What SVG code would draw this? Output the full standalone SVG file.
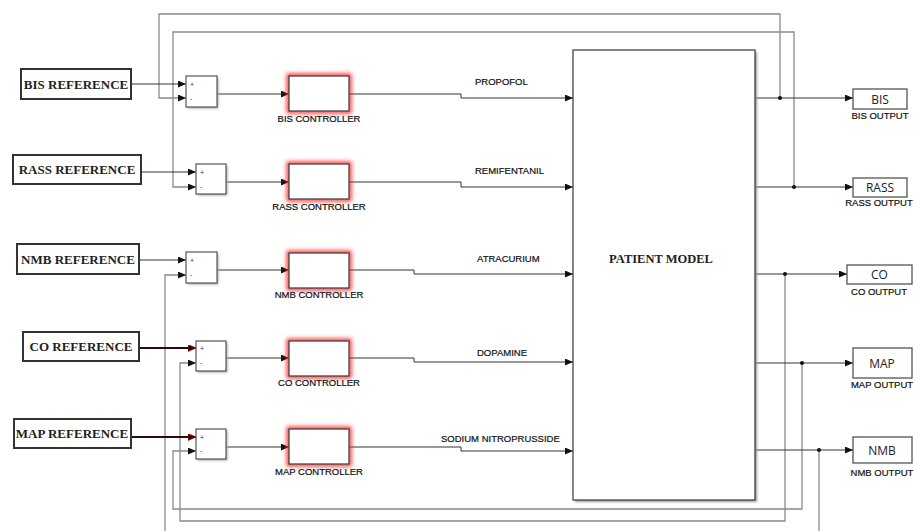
<svg xmlns="http://www.w3.org/2000/svg" width="915" height="531" viewBox="0 0 915 531">
<style>
.ref{fill:#fff;stroke:#333;stroke-width:2}
.reft{font-family:"Liberation Serif",serif;font-weight:bold;font-size:13px;fill:#222;text-anchor:middle}
.sum{fill:#fff;stroke:#555;stroke-width:1.2}
.shadow{fill:#aaa;filter:url(#blur1)}
.sgn{font-family:"Liberation Sans",sans-serif;font-size:7px;fill:#333}
.ctrl{fill:#fff;stroke:#444;stroke-width:1.3}
.glow{fill:none;stroke:#f22;stroke-width:5;filter:url(#blur2);opacity:0.9}
.lbl{font-family:"Liberation Sans",sans-serif;font-size:9.5px;fill:#111;stroke:#111;stroke-width:0.2;text-anchor:middle}
.drug{font-family:"Liberation Sans",sans-serif;font-size:9.5px;fill:#111;stroke:#111;stroke-width:0.2}
.out{fill:#fff;stroke:#555;stroke-width:1.3}
.outt{font-family:"Open Sans",sans-serif;font-size:12px;fill:#222;text-anchor:middle}
.sig{fill:none;stroke:#333;stroke-width:1}
.fb{fill:none;stroke:#8a8a8a;stroke-width:1.3}
.thick{fill:none;stroke:#2a0c0c;stroke-width:2}
.dot{fill:#111}
</style>
<defs>
<filter id="blur1" x="-20%" y="-20%" width="140%" height="140%"><feGaussianBlur stdDeviation="0.8"/></filter>
<filter id="blur2" x="-30%" y="-40%" width="160%" height="180%"><feGaussianBlur stdDeviation="2"/></filter>
<marker id="arr" markerUnits="userSpaceOnUse" markerWidth="9" markerHeight="8" refX="8" refY="3.5" orient="auto"><path d="M0,0 L8,3.5 L0,7 z" fill="#111"/></marker>
<marker id="arrR" markerUnits="userSpaceOnUse" markerWidth="10" markerHeight="9" refX="8" refY="3.5" orient="auto"><path d="M0,0 L8,3.5 L0,7 z" fill="#111" stroke="#c00" stroke-width="0.8"/></marker>
</defs>

<g id="connectors">
<polyline class="fb" points="780,98 780,14 159,14 159,98 186,98" marker-end="url(#arr)"/>
<polyline class="fb" points="794,187 794,32 173,32 173,187 196,187" marker-end="url(#arr)"/>
<polyline class="fb" points="819,450 819,531"/>
<polyline class="fb" points="165,531 165,275 186,275" marker-end="url(#arr)"/>
<polyline class="fb" points="785,274 785,521 180,521 180,363 196,363" marker-end="url(#arr)"/>
<polyline class="fb" points="802,363 802,509 173,509 173,451 196,451" marker-end="url(#arr)"/>
<line class="sig" x1="131" y1="84" x2="186" y2="84" marker-end="url(#arr)"/>
<line class="sig" x1="141" y1="172" x2="196" y2="172" marker-end="url(#arr)"/>
<line class="sig" x1="139" y1="260" x2="186" y2="260" marker-end="url(#arr)"/>
<line class="thick" x1="139" y1="348" x2="196" y2="348" marker-end="url(#arrR)"/>
<line class="thick" x1="131" y1="437" x2="196" y2="437" marker-end="url(#arrR)"/>
<line class="sig" x1="217" y1="94" x2="289" y2="94" marker-end="url(#arr)"/>
<line class="sig" x1="226" y1="182" x2="289" y2="182" marker-end="url(#arr)"/>
<line class="sig" x1="217" y1="270" x2="289" y2="270" marker-end="url(#arr)"/>
<line class="sig" x1="226" y1="358" x2="289" y2="358" marker-end="url(#arr)"/>
<line class="sig" x1="226" y1="447" x2="289" y2="447" marker-end="url(#arr)"/>
<polyline class="sig" points="349,94 461,94 461,98 573,98" marker-end="url(#arr)"/>
<polyline class="sig" points="349,182 461,182 461,187 573,187" marker-end="url(#arr)"/>
<polyline class="sig" points="349,270 414,270 414,274 573,274" marker-end="url(#arr)"/>
<polyline class="sig" points="349,358 414,358 414,362 573,362" marker-end="url(#arr)"/>
<polyline class="sig" points="349,447 461,447 461,451 573,451" marker-end="url(#arr)"/>
<line class="sig" x1="755" y1="98" x2="853" y2="98" marker-end="url(#arr)"/>
<line class="sig" x1="755" y1="187" x2="853" y2="187" marker-end="url(#arr)"/>
<line class="sig" x1="755" y1="274" x2="847" y2="274" marker-end="url(#arr)"/>
<line class="sig" x1="755" y1="363" x2="853" y2="363" marker-end="url(#arr)"/>
<line class="sig" x1="755" y1="450" x2="853" y2="450" marker-end="url(#arr)"/>
<circle class="dot" cx="780" cy="98" r="2"/>
<circle class="dot" cx="794" cy="187" r="2"/>
<circle class="dot" cx="785" cy="274" r="2"/>
<circle class="dot" cx="802" cy="363" r="2"/>
<circle class="dot" cx="819" cy="450" r="2"/>
<text class="drug" x="475" y="85">PROPOFOL</text>
<text class="drug" x="475" y="174">REMIFENTANIL</text>
<text class="drug" x="477" y="262">ATRACURIUM</text>
<text class="drug" x="477" y="356">DOPAMINE</text>
<text class="drug" x="441" y="442">SODIUM NITROPRUSSIDE</text>
</g>

<g id="bis-reference"><rect class="ref" x="21" y="69" width="110" height="30"/><text class="reft" x="76" y="88.5">BIS REFERENCE</text></g>
<g id="rass-reference"><rect class="ref" x="13" y="155" width="128" height="29"/><text class="reft" x="77" y="174">RASS REFERENCE</text></g>
<g id="nmb-reference"><rect class="ref" x="17" y="244" width="122" height="30"/><text class="reft" x="78" y="263.5">NMB REFERENCE</text></g>
<g id="co-reference"><rect class="ref" x="23" y="332" width="116" height="29"/><text class="reft" x="81" y="351">CO REFERENCE</text></g>
<g id="map-reference"><rect class="ref" x="14" y="419" width="117" height="29"/><text class="reft" x="72" y="438">MAP REFERENCE</text></g>

<g id="bis-sum"><rect class="shadow" x="187.5" y="77.5" width="31" height="31"/><rect class="sum" x="186" y="76" width="31" height="31"/><text class="sgn" x="190" y="87">+</text><text class="sgn" x="190" y="101">-</text></g>
<g id="rass-sum"><rect class="shadow" x="197.5" y="165.5" width="30" height="30"/><rect class="sum" x="196" y="164" width="30" height="30"/><text class="sgn" x="200" y="175">+</text><text class="sgn" x="200" y="189">-</text></g>
<g id="nmb-sum"><rect class="shadow" x="187.5" y="253.5" width="31" height="31"/><rect class="sum" x="186" y="252" width="31" height="31"/><text class="sgn" x="190" y="263">+</text><text class="sgn" x="190" y="277">-</text></g>
<g id="co-sum"><rect class="shadow" x="197.5" y="342.5" width="30" height="30"/><rect class="sum" x="196" y="341" width="30" height="30"/><text class="sgn" x="200" y="351">+</text><text class="sgn" x="200" y="365">-</text></g>
<g id="map-sum"><rect class="shadow" x="197.5" y="430.5" width="30" height="30"/><rect class="sum" x="196" y="429" width="30" height="30"/><text class="sgn" x="200" y="440">+</text><text class="sgn" x="200" y="453">-</text></g>

<g id="bis-controller"><rect class="glow" x="289" y="76" width="60" height="35"/><rect class="ctrl" x="289" y="76" width="60" height="35"/><text class="lbl" x="319" y="122">BIS CONTROLLER</text></g>
<g id="rass-controller"><rect class="glow" x="289" y="164" width="60" height="35"/><rect class="ctrl" x="289" y="164" width="60" height="35"/><text class="lbl" x="319" y="210">RASS CONTROLLER</text></g>
<g id="nmb-controller"><rect class="glow" x="289" y="253" width="60" height="35"/><rect class="ctrl" x="289" y="253" width="60" height="35"/><text class="lbl" x="319" y="298">NMB CONTROLLER</text></g>
<g id="co-controller"><rect class="glow" x="289" y="341" width="60" height="35"/><rect class="ctrl" x="289" y="341" width="60" height="35"/><text class="lbl" x="319" y="386">CO CONTROLLER</text></g>
<g id="map-controller"><rect class="glow" x="289" y="429" width="60" height="35"/><rect class="ctrl" x="289" y="429" width="60" height="35"/><text class="lbl" x="319" y="475">MAP CONTROLLER</text></g>

<g id="patient-model"><rect x="575" y="52" width="182" height="450" fill="#999" filter="url(#blur1)"/><rect x="573" y="50" width="182" height="450" fill="#fff" stroke="#444" stroke-width="1.3"/><text x="661" y="263" font-family="Liberation Serif, serif" font-weight="bold" font-size="12.5px" fill="#222" text-anchor="middle">PATIENT MODEL</text></g>

<g id="bis-output"><rect class="out" x="853" y="89" width="54" height="20"/><text class="outt" x="880" y="103.5">BIS</text><text class="lbl" x="880" y="119">BIS OUTPUT</text></g>
<g id="rass-output"><rect class="out" x="853" y="178" width="54" height="19"/><text class="outt" x="880" y="192">RASS</text><text class="lbl" x="879" y="206">RASS OUTPUT</text></g>
<g id="co-output"><rect class="out" x="847" y="265" width="65" height="19"/><text class="outt" x="879.5" y="279">CO</text><text class="lbl" x="879" y="295">CO OUTPUT</text></g>
<g id="map-output"><rect class="out" x="853" y="348" width="59" height="30"/><text class="outt" x="882" y="367.5">MAP</text><text class="lbl" x="882" y="388">MAP OUTPUT</text></g>
<g id="nmb-output"><rect class="out" x="853" y="437" width="59" height="26"/><text class="outt" x="882" y="454.5">NMB</text><text class="lbl" x="882" y="476">NMB OUTPUT</text></g>
</svg>
